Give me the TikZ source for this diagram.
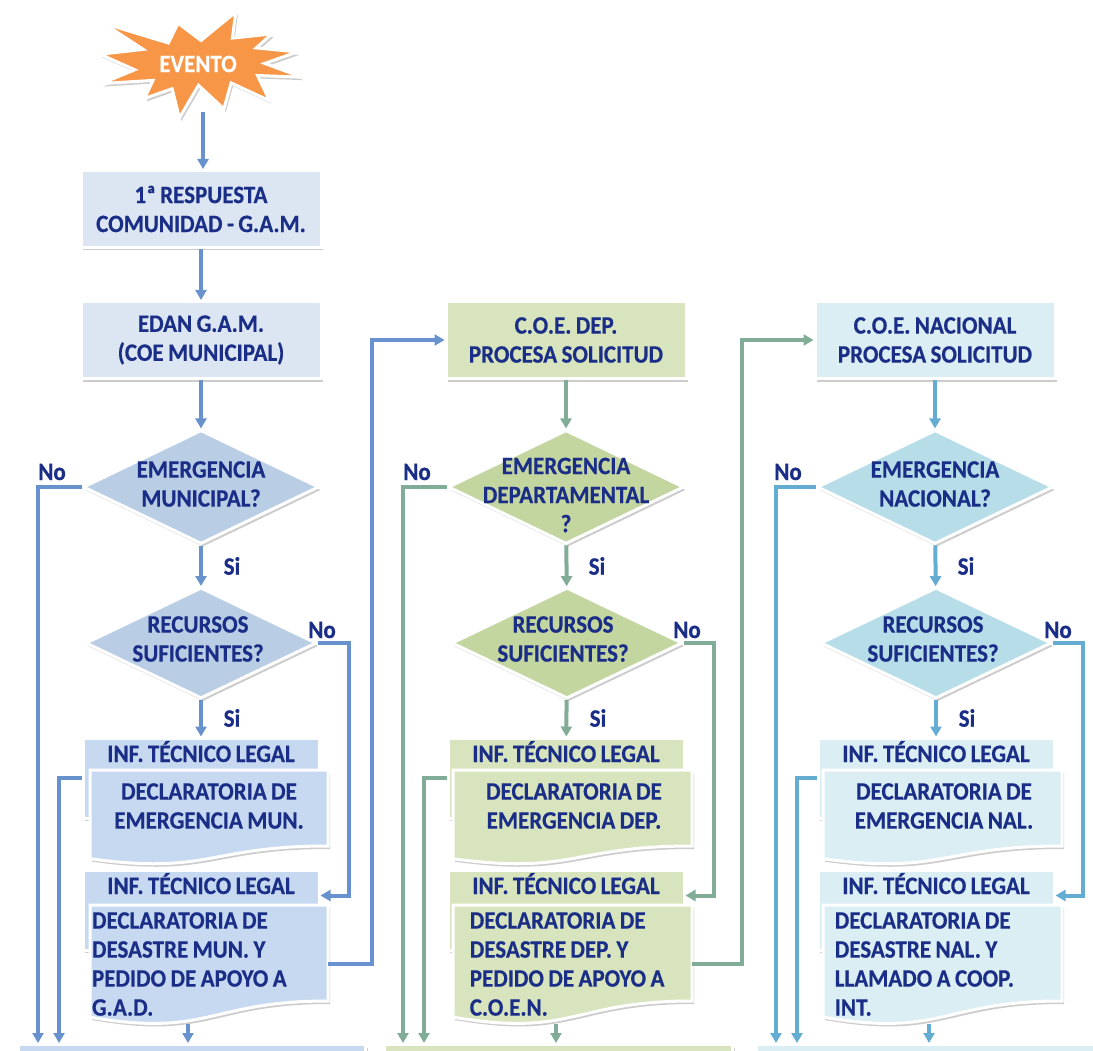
\documentclass[tikz,border=0pt]{standalone}
\usepackage{fontspec}
\setmainfont{Carlito}[FakeStretch=0.92, WordSpace=0.85, BoldFeatures={FakeBold=0.5}]
\usetikzlibrary{arrows.meta, shapes.geometric, shadows}

\definecolor{navy}{RGB}{26,46,135}
\definecolor{blueA}{RGB}{220,230,242}
\definecolor{blueB}{RGB}{185,205,229}
\definecolor{blueC}{RGB}{198,217,241}
\definecolor{greenA}{RGB}{215,228,189}
\definecolor{greenB}{RGB}{196,214,160}
\definecolor{cyanA}{RGB}{219,238,244}
\definecolor{cyanB}{RGB}{183,222,232}
\definecolor{bluelin}{RGB}{103,146,205}
\definecolor{greenlin}{RGB}{128,172,152}
\definecolor{cyanlin}{RGB}{100,172,210}
\definecolor{starorange}{RGB}{247,150,70}

% document shape: colour, left x, top y, right x, height
\newcommand{\docshape}[5]{%
	\filldraw[docframe, fill=#1] (#2,#3) -- (#4,#3) -- (#4,{#3+0.8*#5})
		.. controls ({(#2+#4)/2},{#3+0.8*#5}) and ({(#2+#4)/2},{#3+1.107*#5}) .. (#2,{#3+0.934*#5}) -- cycle;}

\begin{document}
\begin{tikzpicture}[
						x=1pt, y=-1pt,
						>={Triangle[length=10pt, width=11pt]},
						txt/.style = {font={\fontsize{25}{29}\selectfont\bfseries}, text=navy},
						shadowed/.style = {drop shadow={opacity=0.4, shadow xshift=2pt, shadow yshift=-3pt}},
						box/.style = {txt, rectangle, draw=white, line width=3pt, shadowed, align=center, minimum width=240pt, minimum height=77pt},
						dia/.style = {diamond, draw=white, line width=3pt, shadowed, inner sep=0pt, minimum width=236pt, minimum height=114pt},
						qtxt/.style = {txt, align=center},
						inf/.style = {txt, rectangle, draw=white, line width=3pt, shadowed, minimum width=236pt, inner ysep=6pt, text height=18pt, text depth=50pt},
						docframe/.style = {draw=white, line width=3pt, shadowed},
						doc/.style = {txt, align=center, minimum width=238pt, minimum height=76pt},
						docl/.style = {txt, align=flush left, inner sep=2pt},
						lbl/.style = {txt},
						fin/.style = {rectangle, draw=white, line width=3pt, shadowed, anchor=north west, minimum height=40pt},
						bline/.style = {draw=bluelin, line width=4pt, ->},
						gline/.style = {draw=greenlin, line width=4pt, ->},
						cline/.style = {draw=cyanlin, line width=4pt, ->},
					]

\useasboundingbox (0,0) rectangle (1093,1051);

% evento
\begin{scope}[shift={(100,12)}, x=2.02pt, y=-1.06pt]
\filldraw[draw=white, line width=3pt, fill=starorange, shadowed] (50,26.85) -- (67.23,0) -- (65.53,24.65) -- (85.09,20.63) -- (77.32,33.87) -- (97.67,37.67) -- (81.51,48.50) -- (100,61.53) -- (77.95,59.92) -- (84,83.77) -- (64.91,66.93) -- (61.33,91.38) -- (48.76,69.14) -- (39.28,100) -- (35.72,72.35) -- (22.05,81.56) -- (26.24,64.52) -- (0.63,67.53) -- (17.23,54.51) -- (0,39.88) -- (21.42,35.26) -- (1.71,10.63) -- (33.85,29.26) -- (38.67,10.63) -- cycle;
\end{scope}
\node[txt, text=white] (evento) at (198,64) {EVENTO};
\coordinate (evb) at (203,112);

% column 1
\node[box, fill=blueA] (resp) at (201,209) {1ª RESPUESTA\\COMUNIDAD - G.A.M.};
\node[box, fill=blueA] (edan) at (201,340) {EDAN G.A.M.\\(COE MUNICIPAL)};
\node[dia, fill=blueB] (emun) at (201,487) {};
\node[qtxt] (emunt) at (201,484) {EMERGENCIA\\MUNICIPAL?};
\node[dia, fill=blueB, minimum width=231pt, minimum height=111pt] (rmun) at (201,643) {};
\node[qtxt] (rmunt) at (198,639) {RECURSOS\\SUFICIENTES?};
\node[inf, fill=blueC] (inf1) at (201,778) {INF. TÉCNICO LEGAL};
\docshape{blueC}{90}{770}{328}{95}
\node[doc] (dec1) at (209,806) {DECLARATORIA DE\\EMERGENCIA MUN.};
\node[inf, fill=blueC] (inf2) at (201,910) {INF. TÉCNICO LEGAL};
\docshape{blueC}{90}{905}{328}{120}
\node[docl, text width=234pt] (dec2) at (209,964) {DECLARATORIA DE\\DESASTRE MUN. Y\\PEDIDO DE APOYO A\\G.A.D.};
\coordinate (dec2b) at (188,1024);
\node[fin, fill=blueC, minimum width=347pt] (fin1) at (17,1043) {};

\node[lbl] (no1) at (52,472) {No};
\node[lbl] (si1) at (232,566) {Si};
\node[lbl] (no2) at (322,630) {No};
\node[lbl] (si2) at (232,718) {Si};

% column 2
\node[box, fill=greenA] (cdep) at (566,340) {C.O.E. DEP.\\PROCESA SOLICITUD};
\node[dia, fill=greenB] (edep) at (566,487) {};
\node[qtxt] (edept) at (566,495) {EMERGENCIA\\DEPARTAMENTAL\\?};
\node[dia, fill=greenB, minimum width=231pt, minimum height=111pt] (rdep) at (567,643) {};
\node[qtxt] (rdept) at (563,639) {RECURSOS\\SUFICIENTES?};
\node[inf, fill=greenA] (inf3) at (566,778) {INF. TÉCNICO LEGAL};
\docshape{greenA}{453}{770}{692}{95}
\node[doc] (dec3) at (574,806) {DECLARATORIA DE\\EMERGENCIA DEP.};
\node[inf, fill=greenA] (inf4) at (566,910) {INF. TÉCNICO LEGAL};
\docshape{greenA}{453}{905}{692}{120}
\node[docl, text width=220pt, anchor=east] (dec4) at (692,964) {DECLARATORIA DE\\DESASTRE DEP. Y\\PEDIDO DE APOYO A\\C.O.E.N.};
\coordinate (dec4b) at (556,1024);
\node[fin, fill=greenA, minimum width=348pt] (fin2) at (383,1043) {};

\node[lbl] (no3) at (417,472) {No};
\node[lbl] (si3) at (597,566) {Si};
\node[lbl] (no4) at (687,630) {No};
\node[lbl] (si4) at (598,718) {Si};

% column 3
\node[box, fill=cyanA] (cnac) at (935,340) {C.O.E. NACIONAL\\PROCESA SOLICITUD};
\node[dia, fill=cyanB] (enac) at (935,487) {};
\node[qtxt] (enact) at (935,484) {EMERGENCIA\\NACIONAL?};
\node[dia, fill=cyanB, minimum width=231pt, minimum height=111pt] (rnac) at (936,643) {};
\node[qtxt] (rnact) at (933,639) {RECURSOS\\SUFICIENTES?};
\node[inf, fill=cyanA] (inf5) at (936,778) {INF. TÉCNICO LEGAL};
\docshape{cyanA}{823}{770}{1062}{95}
\node[doc] (dec5) at (944,806) {DECLARATORIA DE\\EMERGENCIA NAL.};
\node[inf, fill=cyanA] (inf6) at (936,910) {INF. TÉCNICO LEGAL};
\docshape{cyanA}{823}{905}{1062}{120}
\node[docl, text width=225pt, anchor=east] (dec6) at (1062,964) {DECLARATORIA DE\\DESASTRE NAL. Y\\LLAMADO A COOP.\\INT.};
\coordinate (dec6b) at (929,1024);
\node[fin, fill=cyanA, minimum width=345pt] (fin3) at (755,1043) {};

\node[lbl] (no5) at (788,472) {No};
\node[lbl] (si5) at (966,566) {Si};
\node[lbl] (no6) at (1058,630) {No};
\node[lbl] (si6) at (967,718) {Si};

% connectors
\draw[bline] (evb) -- (evb |- resp.north);
\draw[bline] (resp) -- (edan);
\draw[bline] (edan) -- (emun);
\draw[bline] (emun) -- (rmun);
\draw[bline] (rmun) -- (inf1);
\draw[bline] (emun.west) -| (38,0 |- fin1.north);
\draw[bline] (rmun.east) -- ++(31,0) |- ([yshift=-27pt]inf2.north east);
\draw[bline] (inf1.west) -| (59,0 |- fin1.north);
\draw[bline] (dec2b) -- (dec2b |- fin1.north);
\draw[bline] (dec2.east) -- ++(44,0) |- (cdep.west);

\draw[gline] (cdep) -- (edep);
\draw[gline] (edep) -- (rdep);
\draw[gline] (rdep) -- (inf3);
\draw[gline] (edep.west) -| (403,0 |- fin2.north);
\draw[gline] (rdep.east) -- ++(30,0) |- ([yshift=-27pt]inf4.north east);
\draw[gline] (inf3.west) -| (424,0 |- fin2.north);
\draw[gline] (dec4b) -- (dec4b |- fin2.north);
\draw[gline] (dec4.east) -- ++(50,0) |- (cnac.west);

\draw[cline] (cnac) -- (enac);
\draw[cline] (enac) -- (rnac);
\draw[cline] (rnac) -- (inf5);
\draw[cline] (enac.west) -| (776,0 |- fin3.north);
\draw[cline] (rnac.east) -- ++(30,0) |- ([yshift=-27pt]inf6.north east);
\draw[cline] (inf5.west) -| (797,0 |- fin3.north);
\draw[cline] (dec6b) -- (dec6b |- fin3.north);

\end{tikzpicture}
\end{document}
